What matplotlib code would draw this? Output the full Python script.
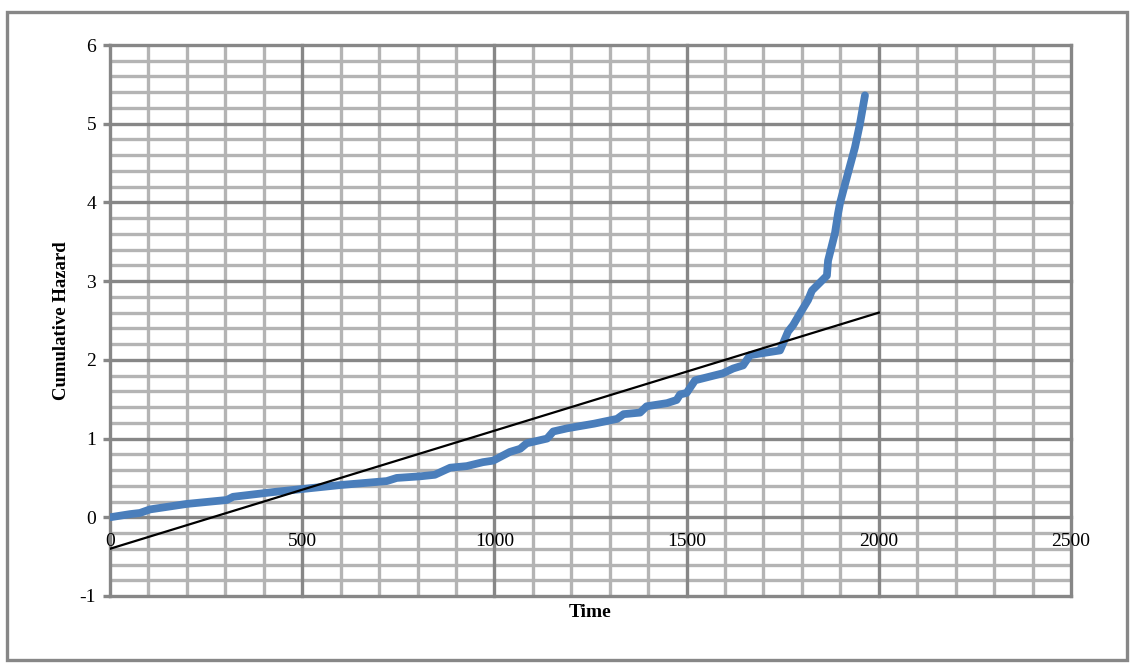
import matplotlib
matplotlib.use("Agg")
import matplotlib.pyplot as plt
from matplotlib.patches import Rectangle
import numpy as np

time = [0, 52, 78, 104, 200, 304, 320, 424, 502, 600, 720, 746, 806, 845, 885, 928, 970,
        997, 1040, 1067, 1084, 1137, 1153, 1189, 1260, 1319, 1336, 1379, 1396, 1449, 1474,
        1483, 1500, 1522, 1595, 1621, 1647, 1665, 1743, 1751, 1764, 1777, 1795, 1816, 1826,
        1865, 1868, 1886, 1894, 1899, 1917, 1938, 1951, 1964]
hazard = [0.0, 0.04, 0.055, 0.10, 0.17, 0.22, 0.26, 0.32, 0.36, 0.41, 0.46, 0.50, 0.52, 0.54,
          0.63, 0.65, 0.70, 0.72, 0.83, 0.87, 0.94, 1.00, 1.09, 1.13, 1.19, 1.25, 1.31, 1.33,
          1.41, 1.45, 1.49, 1.56, 1.58, 1.74, 1.83, 1.89, 1.93, 2.06, 2.12, 2.21, 2.36, 2.44,
          2.59, 2.76, 2.88, 3.07, 3.26, 3.61, 3.86, 3.99, 4.32, 4.70, 5.00, 5.36]

fit_time = [0, 2000]
fit_hazard = [-0.4, 2.6]

xticks = [0, 500, 1000, 1500, 2000, 2500]
yticks = [-1, 0, 1, 2, 3, 4, 5, 6]

serif = ["Liberation Serif", "DejaVu Serif"]

fig = plt.figure(figsize=(11.35, 6.64), dpi=100)
W, H = 1135, 664
ax = fig.add_axes([110 / W, 1 - 596 / H, (1071 - 110) / W, (596 - 45) / H])

ax.set_xlim(0, 2500)
ax.set_ylim(-1, 6)

major_c = "#878787"
minor_c = "#b4b4b4"
# minor grid
for xv in np.arange(0, 2501, 100):
    if xv % 500:
        ax.axvline(xv, color=minor_c, lw=2.4, zorder=1)
for yv in np.arange(-1, 6.01, 0.2):
    if abs(yv - round(yv)) > 1e-6:
        ax.axhline(yv, color=minor_c, lw=2.4, zorder=1)
for xv in xticks:
    ax.axvline(xv, color=major_c, lw=2.4, zorder=2, clip_on=False)
for yv in yticks:
    ax.axhline(yv, color=major_c, lw=2.4, zorder=2, clip_on=False)

for s in ax.spines.values():
    s.set_visible(False)

ax.set_xticks([])
ax.set_yticks(yticks)
ax.set_yticklabels([str(v) for v in yticks], fontfamily=serif, fontsize=14)
ax.tick_params(axis="y", length=5, width=2.4, color=major_c, pad=5)

for xv in xticks:
    ax.annotate(str(xv), (xv, 0), xytext=(0, -11), textcoords="offset points",
                ha="center", va="top", fontfamily=serif, fontsize=14)

ax.plot(time, hazard, color="#4a7ebb", lw=5.6, solid_capstyle="round",
        solid_joinstyle="round", zorder=4)
ax.plot(fit_time, fit_hazard, color="black", lw=1.6, zorder=5)

ax.set_ylabel("Cumulative Hazard", fontfamily=serif, fontsize=13.5, fontweight="bold",
              labelpad=7)
ax.set_xlabel("Time", fontfamily=serif, fontsize=14, fontweight="bold", labelpad=6)

fig.patches.append(Rectangle((7 / W, 1 - 660 / H), (1127 - 7) / W, (660 - 12) / H,
                             transform=fig.transFigure, fill=False,
                             edgecolor="#878787", lw=2.4))

fig.savefig("out.png", dpi=100)
